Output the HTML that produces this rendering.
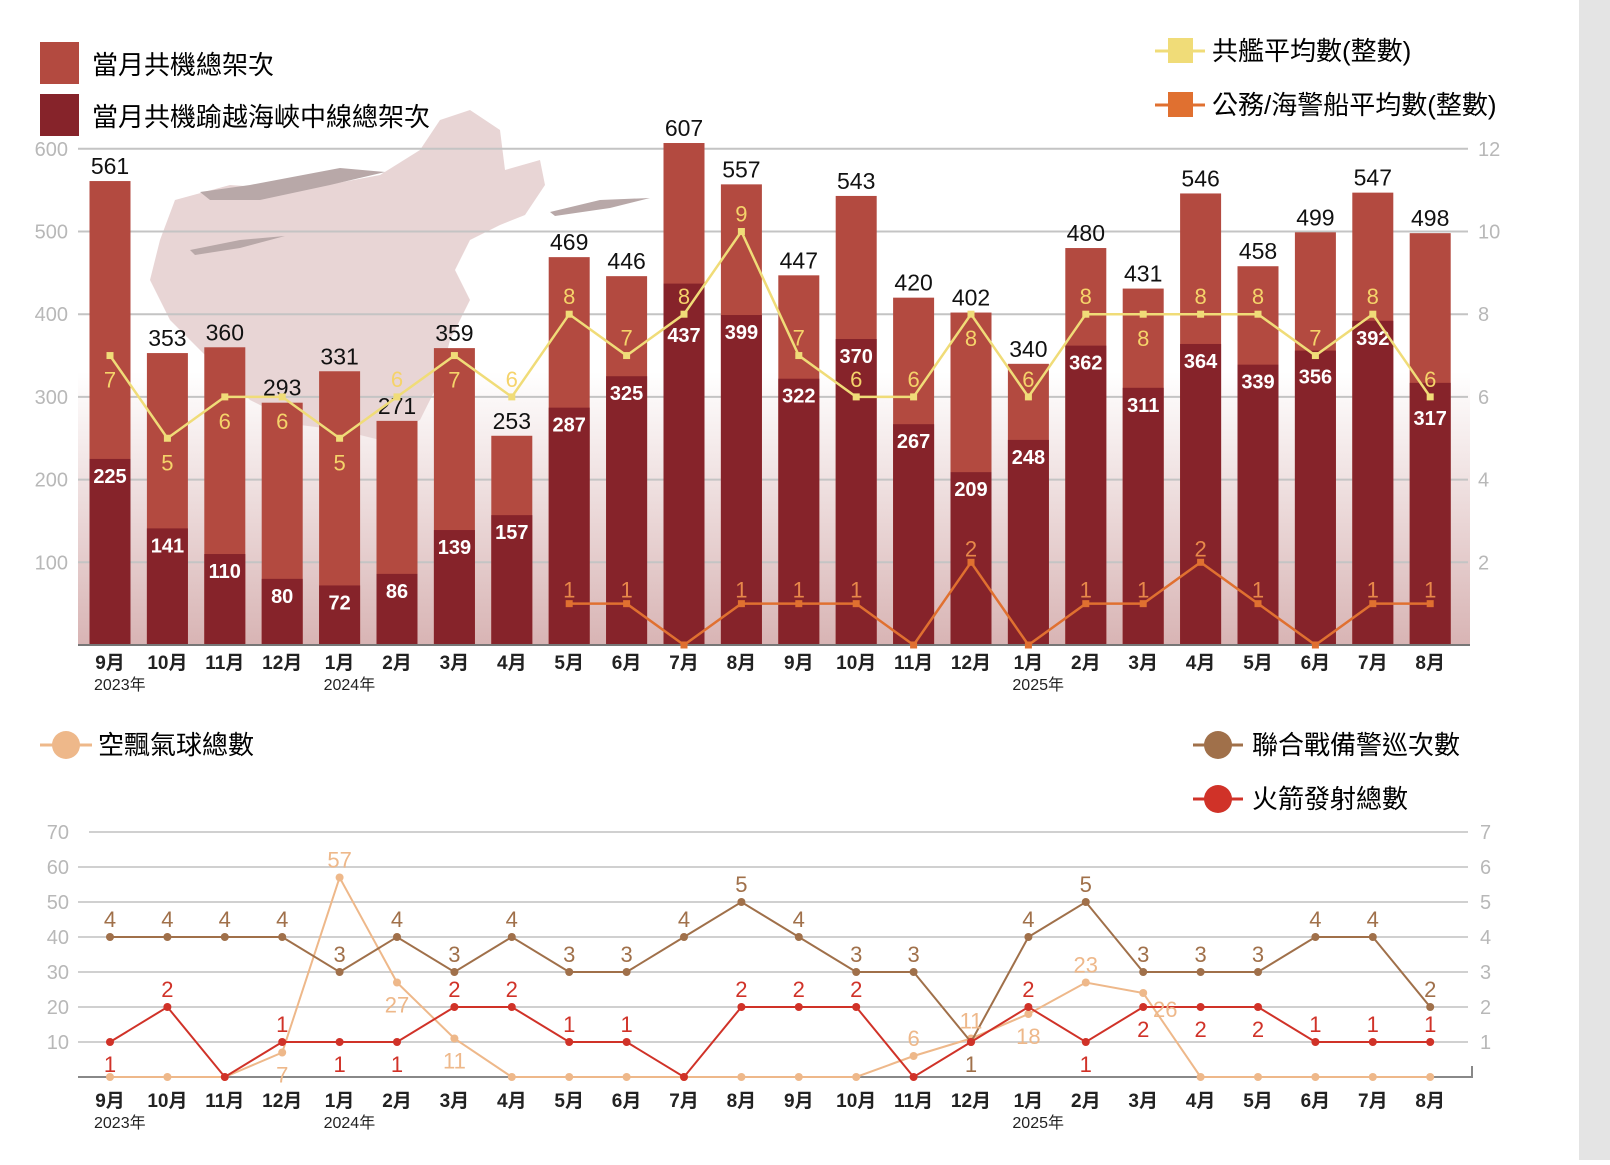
<!DOCTYPE html>
<html><head><meta charset="utf-8">
<style>
html,body{margin:0;padding:0;background:#fff;}
body{width:1610px;height:1160px;overflow:hidden;position:relative;font-family:"Liberation Sans","Noto Sans CJK TC",sans-serif;}
svg text{font-family:"Liberation Sans","Noto Sans CJK TC",sans-serif;}
</style></head>
<body>
<svg id="chart" width="1610" height="1160" viewBox="0 0 1610 1160" xmlns="http://www.w3.org/2000/svg">
<defs>
<linearGradient id="bg" x1="0" y1="0" x2="0" y2="1">
<stop offset="0" stop-color="#fff"/><stop offset="0.45" stop-color="#fff"/><stop offset="1" stop-color="#d8b4b4"/>
</linearGradient>
</defs>
<rect x="1579" y="0" width="31" height="1160" fill="#e4e4e4"/>
<rect x="78" y="149" width="1392" height="496" fill="url(#bg)"/>
<path fill="#e8d5d5" d="M175,200 L230,185 L300,190 L380,175 L420,150 L440,120 L470,110 L500,130 L505,170 L540,160 L545,185 L525,215 L500,225 L470,240 L455,270 L470,300 L450,340 L440,380 L420,420 L380,440 L340,430 L300,425 L250,400 L210,360 L170,320 L150,280 L160,240 Z"/>
<g fill="#b8a8a8">
<path d="M200,192 L250,185 L340,168 L385,172 L330,185 L260,200 L210,200 Z"/>
<path d="M190,250 L240,240 L285,236 L240,248 L195,255 Z"/>
<path d="M550,212 L600,200 L650,198 L610,208 L555,216 Z"/>
</g>
<g id="topg"></g>
<g id="botg"></g>
<g>
<rect x="40" y="42" width="39" height="42" fill="#b34a40"/>
<text x="92" y="74" font-size="26">當月共機總架次</text>
<rect x="40" y="94" width="39" height="42" fill="#86232a"/>
<text x="92" y="126" font-size="26">當月共機踰越海峽中線總架次</text>
<line x1="1155" y1="51" x2="1205" y2="51" stroke="#f0dc78" stroke-width="3"/>
<rect x="1168" y="38" width="25" height="25" fill="#f0dc78"/>
<text x="1212" y="60" font-size="26">共艦平均數(整數)</text>
<line x1="1155" y1="105" x2="1205" y2="105" stroke="#e07030" stroke-width="3"/>
<rect x="1168" y="92" width="25" height="25" fill="#e07030"/>
<text x="1212" y="114" font-size="26">公務/海警船平均數(整數)</text>
</g>
<g>
<line x1="40" y1="745" x2="92" y2="745" stroke="#eeb88a" stroke-width="3"/>
<circle cx="66" cy="745" r="14" fill="#eeb88a"/>
<text x="98" y="754" font-size="26">空飄氣球總數</text>
<line x1="1193" y1="745" x2="1243" y2="745" stroke="#a0704a" stroke-width="3"/>
<circle cx="1218" cy="745" r="14" fill="#a0704a"/>
<text x="1252" y="754" font-size="26">聯合戰備警巡次數</text>
<line x1="1193" y1="799" x2="1243" y2="799" stroke="#d03228" stroke-width="3"/>
<circle cx="1218" cy="799" r="14" fill="#d03228"/>
<text x="1252" y="808" font-size="26">火箭發射總數</text>
</g>
</svg>
<script>
const months=["9月","10月","11月","12月","1月","2月","3月","4月","5月","6月","7月","8月","9月","10月","11月","12月","1月","2月","3月","4月","5月","6月","7月","8月"];
const years=[[0,"2023年"],[4,"2024年"],[16,"2025年"]];
const totalFlights=[561,353,360,293,331,271,359,253,469,446,607,557,447,543,420,402,340,480,431,546,458,499,547,498];
const crossFlights=[225,141,110,80,72,86,139,157,287,325,437,399,322,370,267,209,248,362,311,364,339,356,392,317];
const shipAvg=[7,5,6,6,5,6,7,6,8,7,8,10,7,6,6,8,6,8,8,8,8,7,8,6];
const shipLabels=[7,5,6,6,5,6,7,6,8,7,8,9,7,6,6,8,6,8,8,8,8,7,8,6];
const shipLabelSide=["b","b","b","b","b","a","b","a","a","a","a","a","a","a","a","b","a","a","b","a","a","a","a","a"];
const coastGuard=[null,null,null,null,null,null,null,null,1,1,0,1,1,1,0,2,0,1,1,2,1,0,1,1];
const leftTicks=[100,200,300,400,500,600];
const rightTicks=[2,4,6,8,10,12];
const patrols=[4,4,4,4,3,4,3,4,3,3,4,5,4,3,3,1,4,5,3,3,3,4,4,2];
const rockets=[1,2,0,1,1,1,2,2,1,1,0,2,2,2,0,1,2,1,2,2,2,1,1,1];
const rocketSide=["b","a","a","a","b","b","a","a","a","a","a","a","a","a","a","n","a","b","b","b","b","a","a","a"];
const balloons=[0,0,0,7,57,27,11,0,0,0,0,0,0,0,6,11,18,27,24,0,0,0,0,0];
const balloonLabels=["","","","7","57","27","11","","","","","","","","6","11","18","23","26","","","","",""];
const balloonSide=["","","","b","a","b","b","","","","","","","","a","a","b","a","r","","","","",""];
const bLeftTicks=[10,20,30,40,50,60,70];
const bRightTicks=[1,2,3,4,5,6,7];

const NS="http://www.w3.org/2000/svg";
function mk(tag,attrs,parent,txt){const e=document.createElementNS(NS,tag);for(const k in attrs)e.setAttribute(k,attrs[k]);if(txt!==undefined)e.textContent=txt;parent.appendChild(e);return e;}
const xC=i=>110+i*57.4;
const yT=v=>645-v*0.827;
const yTR=v=>yT(v*50);
const yB=v=>1077-v*3.5;
const gTop=document.getElementById('topg');
const gBot=document.getElementById('botg');

leftTicks.forEach(t=>{
  const l=mk('line',{x1:78,x2:1468,y1:yT(t),y2:yT(t),stroke:'#c4c4c4','stroke-width':2},gTop);
  
  
  const tx=mk('text',{x:68,y:yT(t)+7,'font-size':20,fill:'#b8b8b8','text-anchor':'end'},gTop,t);
  
  
});
rightTicks.forEach(t=>{
  const tx=mk('text',{x:1478,y:yTR(t)+7,'font-size':20,fill:'#b8b8b8'},gTop,t);
  
  
});
totalFlights.forEach((v,i)=>{
  const x=xC(i)-20.5;
  const b=mk('rect',{x:x,y:yT(v),width:41,height:yT(0)-yT(v),fill:'#b34a40'},gTop);
  
  
  const c=crossFlights[i];
  const b2=mk('rect',{x:x,y:yT(c),width:41,height:yT(0)-yT(c),fill:'#86232a'},gTop);
  
  
  const t1=mk('text',{x:xC(i),y:yT(v)-7,'font-size':23,'text-anchor':'middle',fill:'#111'},gTop,v);
  
  
  let ly=yT(c)+24;
  const sy=yTR(shipAvg[i]);
  if(Math.abs((ly-8)-sy)<16) ly=sy+28;
  const t2=mk('text',{x:xC(i),y:ly,'font-size':20,'font-weight':'bold','text-anchor':'middle',fill:'#fff'},gTop,c);
  
  
});
const ax=mk('line',{x1:78,x2:1470,y1:645,y2:645,stroke:'#777','stroke-width':2},gTop);


const sp=mk('polyline',{points:shipAvg.map((v,i)=>xC(i)+','+yTR(v)).join(' '),fill:'none',stroke:'#f0dc78','stroke-width':2.5},gTop);


shipAvg.forEach((v,i)=>{
  const m=mk('rect',{x:xC(i)-3.5,y:yTR(v)-3.5,width:7,height:7,fill:'#f0dc78'},gTop);
  
  
  const yy=shipLabelSide[i]==='a'?yTR(v)-10:yTR(v)+32;
  const t=mk('text',{x:xC(i),y:yy,'font-size':22,'text-anchor':'middle',fill:'#f5d36a'},gTop,shipLabels[i]);
  
  
});
const cgPts=coastGuard.map((v,i)=>v===null?null:xC(i)+','+yTR(v)).filter(p=>p);
const cg=mk('polyline',{points:cgPts.join(' '),fill:'none',stroke:'#e07030','stroke-width':2.5},gTop);


coastGuard.forEach((v,i)=>{
  if(v===null)return;
  const m=mk('rect',{x:xC(i)-3.5,y:yTR(v)-3.5,width:7,height:7,fill:'#e07030'},gTop);
  
  
  if(v>0){
    const t=mk('text',{x:xC(i),y:yTR(v)-6,'font-size':22,'text-anchor':'middle',fill:'#e8884a'},gTop,v);
    
    
  }
});
function monthLabels(g,y0,pref){
  months.forEach((m,i)=>{
    const t=mk('text',{x:xC(i),y:y0,'font-size':19,'font-weight':'bold','text-anchor':'middle',fill:'#222'},g,m);
    
    
  });
  years.forEach(([i,yv])=>{
    const t=mk('text',{x:xC(i)-16,y:y0+21,'font-size':16,fill:'#222'},g,yv);
    
    
  });
}
monthLabels(gTop,669,'top');

bLeftTicks.forEach(t=>{
  const l=mk('line',{x1:t===70?89:78,x2:1468,y1:yB(t),y2:yB(t),stroke:'#d0d0d0','stroke-width':2},gBot);
  
  
  const tx=mk('text',{x:69,y:yB(t)+7,'font-size':20,fill:'#b8b8b8','text-anchor':'end'},gBot,t);
  
  
});
bRightTicks.forEach(t=>{
  const tx=mk('text',{x:1480,y:yB(t*10)+7,'font-size':20,fill:'#b8b8b8'},gBot,t);
  
  
});
const bax=mk('polyline',{points:'78,1077 1472,1077 1472,1066',fill:'none',stroke:'#888','stroke-width':2},gBot);


function series(vals,scale,color,name){
  const p=mk('polyline',{points:vals.map((v,i)=>xC(i)+','+yB(v*scale)).join(' '),fill:'none',stroke:color,'stroke-width':2},gBot);
  
  
  vals.forEach((v,i)=>{
    const c=mk('circle',{cx:xC(i),cy:yB(v*scale),r:4,fill:color},gBot);
    
    
  });
}
series(balloons,1,'#eeb88a','balloon');
series(patrols,10,'#a0704a','patrol');
series(rockets,10,'#d03228','rocket');
patrols.forEach((v,i)=>{
  const yy=v===1?yB(10)+30:yB(v*10)-10;
  const t=mk('text',{x:xC(i),y:yy,'font-size':22,'text-anchor':'middle',fill:'#a0704a'},gBot,v);
  
  
});
rockets.forEach((v,i)=>{
  if(v===0||rocketSide[i]==='n')return;
  const yy=rocketSide[i]==='a'?yB(v*10)-10:yB(v*10)+30;
  const t=mk('text',{x:xC(i),y:yy,'font-size':22,'text-anchor':'middle',fill:'#d03228'},gBot,v);
  
  
});
balloons.forEach((v,i)=>{
  if(!balloonLabels[i])return;
  const s=balloonSide[i];
  const xx=s==='r'?xC(i)+22:xC(i);
  const yy=s==='a'?yB(v)-10:(s==='b'?yB(v)+30:yB(v)+24);
  const t=mk('text',{x:xx,y:yy,'font-size':22,'text-anchor':'middle',fill:'#eeb88a'},gBot,balloonLabels[i]);
  
  
});
monthLabels(gBot,1107,'bottom');
</script>
</body></html>
